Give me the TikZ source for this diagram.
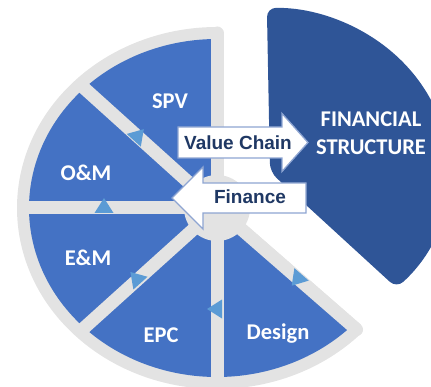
\documentclass[tikz,border=0pt]{standalone}
\usepackage{fontspec}
\usetikzlibrary{calc}
\newfontfamily\labelfont{Carlito}
\newfontfamily\arrowfont{Liberation Sans}
\definecolor{pieblue}{HTML}{4472C4}
\definecolor{fsblue}{HTML}{2F5597}
\definecolor{ringgray}{HTML}{E3E3E3}
\definecolor{markblue}{HTML}{5B9BD5}
\definecolor{navy}{HTML}{1F3864}
\definecolor{arrowline}{HTML}{8EA5D2}
\tikzset{
  sector/.style={fill=pieblue},
  gap/.style={draw=ringgray, line width=13pt},
  flowmark/.style={fill=markblue},
  flowarrow/.style={fill=white, draw=arrowline, line width=1.3pt, line join=miter},
  seglabel/.style={text=white, font=\labelfont\bfseries\fontsize{22.5}{27}\selectfont, anchor=base, inner sep=0pt},
  fslabel/.style={text=white, font=\labelfont\bfseries\fontsize{22.5}{28.5}\selectfont, align=center, inner sep=0pt},
  arrowlabel/.style={text=navy, font=\arrowfont\bfseries\fontsize{19}{22}\selectfont, anchor=base, inner sep=0pt},
}
\begin{document}
\begin{tikzpicture}[x=1pt,y=1pt]
\useasboundingbox (0,0) rectangle (431,386);
\clip (0,0) rectangle (431,386);
\coordinate (C) at (217,178);
\coordinate (F) at (270,214);

% light grey backing of the value-chain pie
\fill[ringgray] (C) -- ($(C)+(-44:200pt and 181pt)$)
  arc[start angle=-44, end angle=-270, x radius=200pt, y radius=181pt] -- cycle;
\draw[gap, line cap=round] (C) -- ($(C)+(90:194pt and 175pt)$);
\draw[gap, line cap=round] (C) -- ($(C)+(-44:194pt and 175pt)$);

% blue sectors
\foreach \a/\b in {90/135, 135/180, 180/225, 225/270, 270/316}
  \fill[sector] (C) -- ($(C)+(\a:188pt and 169pt)$)
    arc[start angle=\a, end angle=\b, x radius=188pt, y radius=169pt] -- cycle;

% separators and hub
\foreach \a in {90,135,180,225,270,316}
  \draw[gap] (C) -- ($(C)+(\a:194pt and 175pt)$);
\fill[ringgray] (C) circle[radius=33pt];

% flow markers on the separators
\foreach \a/\d in {135/48, 180/90, 225/132, 270/180, 316/229}
  \fill[flowmark, shift={($(C)+(\a:113pt and 101pt)$)}, rotate=\d]
    (10,0) -- (-5,9.5) -- (-5,-9.5) -- cycle;

% exploded financial structure slice
\fill[fsblue, rounded corners=9pt] (F) -- ($(F)+(-45:179pt and 164pt)$)
  arc[start angle=-45, end angle=91, x radius=179pt, y radius=164pt] -- cycle;

% block arrows
\draw[flowarrow] (178,259) -- (282,259) -- (282,272.5) -- (308,243.5)
  -- (282,214.5) -- (282,228) -- (178,228) -- cycle;
\node[arrowlabel] (vc) at (238,236.5) {Value Chain};
\draw[flowarrow] (306,203) -- (203,203) -- (203,219) -- (172,188)
  -- (203,157) -- (203,173) -- (306,173) -- cycle;
\node[arrowlabel] (fin) at (250,182.5) {Finance};

% sector labels
\node[seglabel] (spv) at (170,277.5) {SPV};
\node[seglabel] (om) at (86,205.5) {O\&M};
\node[seglabel] (em) at (88,120.5) {E\&M};
\node[seglabel] (epc) at (161,44) {EPC};
\node[seglabel] (design) at (278,47) {Design};
\node[fslabel] (fs) at (371,252.7) {FINANCIAL\\STRUCTURE};
\end{tikzpicture}
\end{document}
